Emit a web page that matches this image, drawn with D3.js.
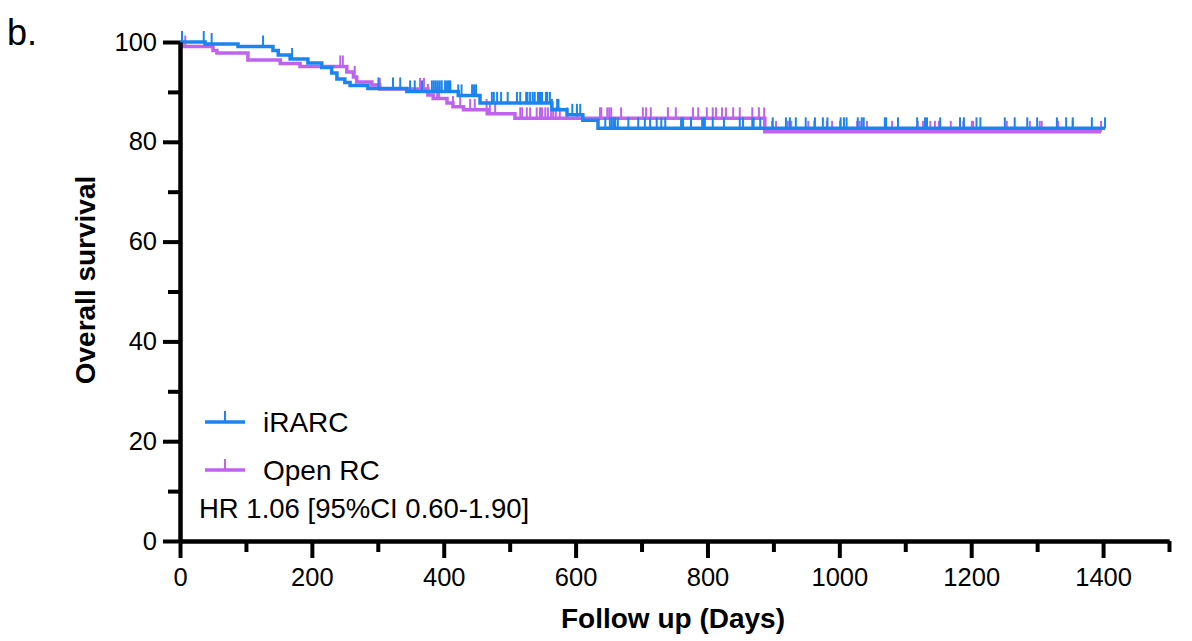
<!DOCTYPE html>
<html>
<head>
<script src="https://cdn.jsdelivr.net/npm/d3@7"></script>
<style>
    body { margin: 0; background: #fff; }
    svg { font-family: "Liberation Sans", Arial, sans-serif; }
</style>
</head>
<body>
<svg width="1192" height="641"></svg>
<script>
// Kaplan-Meier steps: [day, survival %]
var iRarcSteps = [[0, 100], [38, 99.6], [88, 99.1], [141, 98.3], [149, 97.4], [167, 96.6], [194, 95.8],
    [215, 94.9], [230, 93.8], [238, 92.6], [250, 91.9], [258, 91.3], [285, 90.7], [344, 90.1],
    [422, 89.3], [455, 87.8], [564, 86.4], [587, 85.4], [611, 84.3], [634, 82.7]];
var openSteps = [[0, 100], [3, 99.1], [50, 98.3], [56, 97.8], [103, 96.4], [152, 95.7], [182, 95.1],
    [253, 94.0], [263, 93.0], [268, 92.0], [291, 91.4], [303, 90.6], [376, 89.4], [384, 88.7],
    [405, 87.8], [414, 87.0], [430, 86.4], [466, 85.6], [508, 84.7], [887, 82.0]];

// censored patients (days)
var iRarcCensor = [3, 36, 48, 126, 170, 301, 323, 334, 349, 356, 367, 382, 385, 388, 391, 394, 397, 402,
    405, 408, 410, 422, 427, 443, 446, 449, 473, 476, 481, 487, 497, 511, 516, 525, 527, 531, 535, 538,
    543, 546, 549, 555, 557, 561, 564, 572, 574, 595, 602, 607, 645, 652, 655, 658, 660, 664, 680, 695,
    705, 713, 723, 730, 736, 760, 763, 775, 792, 794, 796, 808, 825, 849, 854, 868, 870, 880, 899, 919,
    925, 934, 949, 963, 975, 982, 1002, 1007, 1011, 1028, 1034, 1037, 1069, 1071, 1089, 1118, 1130, 1133,
    1153, 1183, 1189, 1208, 1214, 1251, 1266, 1285, 1300, 1330, 1344, 1354, 1383, 1403];
var openCensor = [8, 243, 247, 265, 303, 364, 370, 376, 390, 393, 414, 425, 440, 447, 465, 470, 478, 516,
    519, 526, 531, 541, 546, 549, 554, 558, 563, 566, 570, 576, 587, 602, 637, 639, 648, 651, 654, 669,
    702, 707, 714, 740, 752, 778, 786, 799, 808, 813, 822, 828, 839, 849, 868, 878, 886, 898, 904, 922,
    927, 953, 962, 981, 989, 1001, 1027, 1031, 1042, 1080, 1119, 1127, 1133, 1138, 1145, 1151, 1169, 1188,
    1201, 1203, 1254, 1289, 1304, 1307, 1332, 1354, 1397];

var xMajor = [0, 200, 400, 600, 800, 1000, 1200, 1400];
var xMinor = [100, 300, 500, 700, 900, 1100, 1300, 1500];
var yMajor = [0, 20, 40, 60, 80, 100];
var yMinor = [10, 30, 50, 70, 90];

var series = [
    { name: "Open RC", steps: openSteps, censor: openCensor, color: "#bf63ee" },
    { name: "iRARC", steps: iRarcSteps, censor: iRarcCensor, color: "#1c84ee" }
];

var svg = d3.select("svg");
var x = d3.scaleLinear().domain([0, 1500]).range([180, 1169]);
var y = d3.scaleLinear().domain([0, 100]).range([541, 42]);
var tickLen = 11;

function survAt(steps, t) {
    var s = steps[0][1];
    steps.forEach(function(d) { if (d[0] <= t) s = d[1]; });
    return s;
}

var line = d3.line()
    .x(function(d) { return x(d[0]); })
    .y(function(d) { return y(d[1]); })
    .curve(d3.curveStepAfter);

var plot = svg.append("g");
series.forEach(function(s) {
    var end = d3.max(s.censor);
    var pts = s.steps.concat([[end, s.steps[s.steps.length - 1][1]]]);
    plot.append("path")
        .datum(pts)
        .attr("fill", "none")
        .attr("stroke", s.color)
        .attr("stroke-width", 3.5)
        .attr("d", line);
    plot.selectAll(null)
        .data(s.censor)
        .enter().append("line")
        .attr("x1", function(d) { return x(d); })
        .attr("x2", function(d) { return x(d); })
        .attr("y1", function(d) { return y(survAt(s.steps, d)); })
        .attr("y2", function(d) { return y(survAt(s.steps, d)) - tickLen; })
        .attr("stroke", s.color)
        .attr("stroke-width", 2);
});

// axes
function styleAxis(g) {
    g.selectAll("path, line").attr("stroke", "#000").attr("stroke-width", 4);
    g.selectAll("text").attr("font-size", 25.5).attr("fill", "#000").attr("font-family", "Liberation Sans, Arial, sans-serif");
}

svg.append("g").attr("transform", "translate(0,541)")
    .call(d3.axisBottom(x).tickValues(xMinor).tickSize(11).tickSizeOuter(0).tickFormat(""))
    .call(styleAxis);
svg.append("g").attr("transform", "translate(0,541)")
    .call(d3.axisBottom(x).tickValues(xMajor).tickSize(17).tickSizeOuter(0).tickPadding(10).tickFormat(d3.format("d")))
    .call(styleAxis);
svg.append("g").attr("transform", "translate(180,0)")
    .call(d3.axisLeft(y).tickValues(yMinor).tickSize(12).tickSizeOuter(0).tickFormat(""))
    .call(styleAxis);
svg.append("g").attr("transform", "translate(180,0)")
    .call(d3.axisLeft(y).tickValues(yMajor).tickSize(17).tickSizeOuter(0).tickPadding(6))
    .call(styleAxis);

// titles
svg.append("text")
    .attr("x", 673).attr("y", 628)
    .attr("text-anchor", "middle")
    .attr("font-size", 28).attr("font-weight", "bold")
    .text("Follow up (Days)");
svg.append("text")
    .attr("transform", "translate(95,280) rotate(-90)")
    .attr("text-anchor", "middle")
    .attr("font-size", 28).attr("font-weight", "bold")
    .text("Overall survival");
svg.append("text")
    .attr("x", 7).attr("y", 45)
    .attr("font-size", 36)
    .text("b.");

// legend
var legend = svg.append("g");
[series[1], series[0]].forEach(function(s, i) {
    var ly = 422 + i * 48;
    legend.append("line")
        .attr("x1", 205).attr("x2", 245).attr("y1", ly).attr("y2", ly)
        .attr("stroke", s.color).attr("stroke-width", 3.5);
    legend.append("line")
        .attr("x1", 225).attr("x2", 225).attr("y1", ly).attr("y2", ly - tickLen)
        .attr("stroke", s.color).attr("stroke-width", 2);
    legend.append("text")
        .attr("x", 263).attr("y", ly + 10)
        .attr("font-size", 28)
        .text(s.name);
});
legend.append("text")
    .attr("x", 199).attr("y", 518)
    .attr("font-size", 27.5)
    .text("HR 1.06 [95%CI 0.60-1.90]");
</script>
</body>
</html>
